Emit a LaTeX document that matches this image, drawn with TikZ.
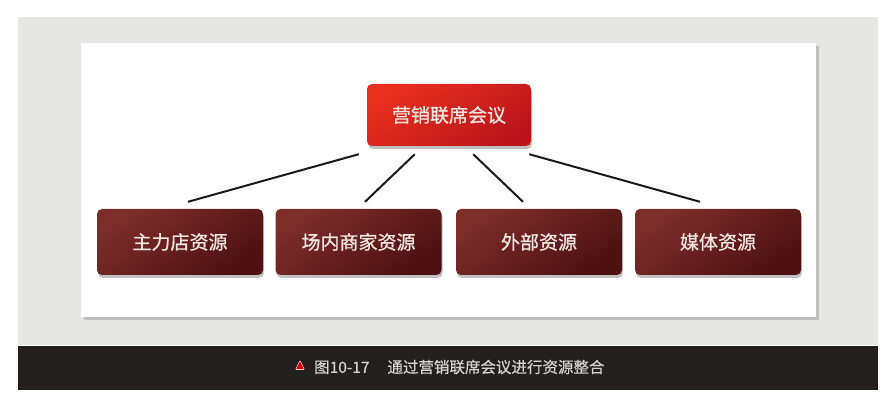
\documentclass[tikz,border=0pt]{standalone}
\usepackage{fontspec}
\setmainfont{Noto Sans CJK SC}
\newfontfamily\boxcjk[FakeBold=0.8]{Noto Sans CJK SC}
\newfontfamily\capcjk[FakeBold=0.5]{Noto Sans CJK SC}
\usetikzlibrary{shadows,calc}
\definecolor{paper}{HTML}{E6E6E2}
\definecolor{barc}{HTML}{231F1F}
\definecolor{redA}{HTML}{E8301F}
\definecolor{redB}{HTML}{BC141A}
\definecolor{marA}{HTML}{7C2E2B}
\definecolor{marB}{HTML}{4E1012}
\definecolor{boxtxt}{HTML}{F4E6DE}
\definecolor{captxt}{HTML}{D6D2CE}
\definecolor{linec}{HTML}{1A1A1A}
\tikzset{
  boxfont/.style={font=\boxcjk\fontsize{19pt}{21pt}\selectfont, text=boxtxt},
  topbox/.style={boxfont, rounded corners=5pt, minimum width=164pt, minimum height=62pt,
    top color=redA, bottom color=redB, shading angle=35,
    drop shadow={shadow xshift=1pt, shadow yshift=-3pt, opacity=0.35, fill=black!70}},
  resbox/.style={boxfont, rounded corners=5pt, minimum width=166pt, minimum height=66pt,
    top color=marA, bottom color=marB, shading angle=35,
    drop shadow={shadow xshift=1pt, shadow yshift=-3pt, opacity=0.35, fill=black!70}},
  link/.style={draw=linec, line width=2pt},
}
\begin{document}
\begin{tikzpicture}[x=1pt,y=-1pt]
\useasboundingbox (0,0) rectangle (895,403);
\fill[white] (0,0) rectangle (895,403);
% grey panel and caption bar
\fill[paper] (18,17) rectangle (878,345);
\fill[barc] (18,346) rectangle (878,390);
% white card
\fill[white, drop shadow={shadow xshift=3pt, shadow yshift=-3pt, opacity=0.3, fill=black!60}] (81,43) rectangle (816,317);

\node[topbox] (top) at (449,115) {营销联席会议};
\node[resbox] (b1) at (180,242) {主力店资源};
\node[resbox] (b2) at (358.5,242) {场内商家资源};
\node[resbox] (b3) at (539,242) {外部资源};
\node[resbox] (b4) at (718,242) {媒体资源};

\coordinate (s1) at ($(top.south west)+(-8,8)$);
\coordinate (s2) at ($(top.south west)+(48,8)$);
\coordinate (s3) at ($(top.south east)+(-58,8)$);
\coordinate (s4) at ($(top.south east)+(-2,8)$);
\coordinate (e1) at ($(b1.north)+(8,-7)$);
\coordinate (e2) at ($(b2.north)+(6.5,-7)$);
\coordinate (e3) at ($(b3.north)+(-16,-7)$);
\coordinate (e4) at ($(b4.north)+(-18,-7)$);
\draw[link] (s1) -- (e1);
\draw[link] (s2) -- (e2);
\draw[link] (s3) -- (e3);
\draw[link] (s4) -- (e4);

% caption
\fill[red!85!black, draw=white!80!red, line width=0.6pt, rounded corners=0.8pt] (295.5,369.5) -- (304.5,369.5) -- (300,360.5) -- cycle;
\node[anchor=west, text=captxt, font=\capcjk\fontsize{15.5pt}{17pt}\selectfont, inner sep=0pt] (cap) at (314,367) {图10-17\hspace{18pt}通过营销联席会议进行资源整合};
\end{tikzpicture}
\end{document}
